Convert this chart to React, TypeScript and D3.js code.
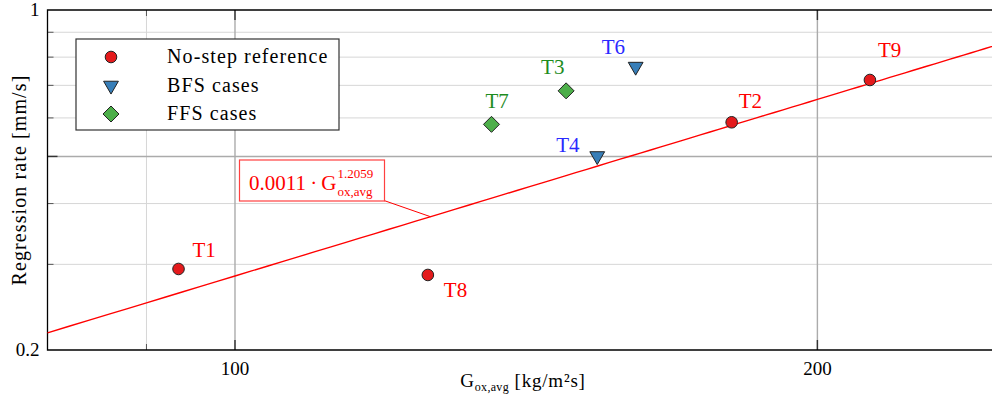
import { useEffect, useRef } from 'react'
import * as d3 from 'd3'

const names = ['T1', 'T8', 'T2', 'T9', 'T4', 'T6', 'T3', 'T7']
const groups = ['ref', 'ref', 'ref', 'ref', 'bfs', 'bfs', 'ffs', 'ffs']
const gox = [93.5, 125.8, 180.6, 212.9, 153.9, 161.1, 148.3, 135.7]
const rate = [0.2935, 0.2853, 0.5877, 0.718, 0.501, 0.765, 0.682, 0.582]

const legendLabels = ['No-step reference', 'BFS cases', 'FFS cases']
const fitA = 0.0011
const fitB = 1.2059

const xMajor = [100, 200]
const xMinor = [90]
const yMajor = [0.5]
const yMinor = [0.3, 0.4, 0.6, 0.7, 0.8, 0.9]
const yLabels = [0.2, 1]

const fill = { ref: '#e41a1c', bfs: '#377eb8', ffs: '#4daf4a' }
const textColor = { ref: '#ff0000', bfs: '#2a2aff', ffs: '#1e8c1e' }
const labelOffset = {
  T1: [14, -12], T8: [16, 22], T2: [7, -14], T9: [8, -23],
  T4: [-41, -4], T6: [-34, -13], T3: [-25, -17], T7: [-6, -16],
}

const font = 'Liberation Serif, DejaVu Serif, serif'

const App = () => {
  const ref = useRef(null)

  useEffect(() => {
    const width = 992
    const height = 394
    const left = 47.5
    const top = 10
    const bottom = 350

    const svg = d3.select(ref.current)
    svg.selectAll('*').remove()
    svg.attr('width', width).attr('height', height)

    const x = d3.scaleLog().domain([80, 250]).range([left, left + 1934.7 * Math.log10(250 / 80)])
    const y = d3.scaleLog().domain([0.2, 1]).range([bottom, top])

    const g = svg.append('g').attr('font-family', font)

    // grid
    g.selectAll('.xminor').data(xMinor).join('line')
     .attr('x1', d => x(d)).attr('x2', d => x(d)).attr('y1', top).attr('y2', bottom)
     .attr('stroke', '#d6d6d6').attr('stroke-width', 1)
    g.selectAll('.yminor').data(yMinor).join('line')
     .attr('x1', left).attr('x2', width).attr('y1', d => y(d)).attr('y2', d => y(d))
     .attr('stroke', '#d6d6d6').attr('stroke-width', 1)
    g.selectAll('.xmajor').data(xMajor).join('line')
     .attr('x1', d => x(d)).attr('x2', d => x(d)).attr('y1', top).attr('y2', bottom)
     .attr('stroke', '#ababab').attr('stroke-width', 1.4)
    g.selectAll('.ymajor').data(yMajor).join('line')
     .attr('x1', left).attr('x2', width).attr('y1', d => y(d)).attr('y2', d => y(d))
     .attr('stroke', '#ababab').attr('stroke-width', 1.4)

    // inner ticks
    const ticks = g.append('g').attr('stroke', '#333')
    ticks.selectAll('.tx').data([...xMinor, ...xMajor]).join('line')
         .attr('x1', d => x(d)).attr('x2', d => x(d))
         .attr('y1', bottom).attr('y2', d => bottom - (xMajor.includes(d) ? 10 : 6))
         .attr('stroke-width', d => xMajor.includes(d) ? 1.4 : 0.8)
    ticks.selectAll('.txt').data([...xMinor, ...xMajor]).join('line')
         .attr('x1', d => x(d)).attr('x2', d => x(d))
         .attr('y1', top).attr('y2', d => top + (xMajor.includes(d) ? 10 : 6))
         .attr('stroke-width', d => xMajor.includes(d) ? 1.4 : 0.8)
    ticks.selectAll('.ty').data([...yMinor, ...yMajor]).join('line')
         .attr('x1', left).attr('x2', d => left + (yMajor.includes(d) ? 10 : 6))
         .attr('y1', d => y(d)).attr('y2', d => y(d))
         .attr('stroke-width', d => yMajor.includes(d) ? 1.4 : 0.8)

    // axis frame (left, bottom, top)
    g.append('path')
     .attr('d', `M${width},${top}H${left}V${bottom}H${width}`)
     .attr('fill', 'none').attr('stroke', '#000').attr('stroke-width', 1.3)

    // tick labels
    g.selectAll('.xl').data(xMajor).join('text')
     .attr('x', d => x(d)).attr('y', bottom + 25)
     .attr('text-anchor', 'middle').attr('font-size', 19).text(d => d)
    g.selectAll('.yl').data(yLabels).join('text')
     .attr('x', left - 8).attr('y', d => y(d) + 6)
     .attr('text-anchor', 'end').attr('font-size', 19).text(d => d)

    // axis titles
    const xt = g.append('text').attr('x', 523).attr('y', 387)
                .attr('text-anchor', 'middle').attr('font-size', 19)
                .attr('letter-spacing', 0.8)
    xt.append('tspan').text('G')
    xt.append('tspan').attr('font-size', 12).attr('dy', 4).attr('letter-spacing', 0.3).text('ox,avg')
    xt.append('tspan').attr('dy', -4).text(' [kg/m²s]')

    g.append('text')
     .attr('transform', `translate(26,${(top + bottom) / 2}) rotate(-90)`)
     .attr('text-anchor', 'middle').attr('font-size', 20).attr('letter-spacing', 1.1)
     .text('Regression rate [mm/s]')

    // fit line
    const fitX = d3.range(80, 251, 2)
    const line = d3.line().x(d => x(d)).y(d => y(fitA * Math.pow(d, fitB)))
    g.append('path').datum(fitX).attr('d', line)
     .attr('fill', 'none').attr('stroke', '#ff0000').attr('stroke-width', 1.4)

    // fit annotation
    const pinG = 126.2
    g.append('line')
     .attr('x1', 384).attr('y1', 200.5)
     .attr('x2', x(pinG)).attr('y2', y(fitA * Math.pow(pinG, fitB)))
     .attr('stroke', '#ff0000').attr('stroke-width', 1)
    g.append('rect').attr('x', 239.5).attr('y', 160).attr('width', 145).attr('height', 41)
     .attr('fill', '#fff').attr('stroke', '#ff4040').attr('stroke-width', 1.2)
    const ann = g.append('g').attr('fill', '#ff0000')
    const base = ann.append('text').attr('x', 249).attr('y', 190)
                    .attr('font-size', 21).text(`${fitA}\u2009·\u2009G`)
    const bx = 249 + base.node().getComputedTextLength() + 1
    ann.append('text').attr('x', bx).attr('y', 178).attr('font-size', 13).text(fitB)
    ann.append('text').attr('x', bx).attr('y', 196).attr('font-size', 13).text('ox,avg')

    // markers
    const tri = d3.symbol().type(d3.symbolTriangle).size(95)
    const diamond = 'M0,-8L8,0L0,8L-8,0Z'
    const drawMarker = (sel, grp, cx, cy) => {
      if (grp === 'ref') {
        sel.append('circle').attr('cx', cx).attr('cy', cy).attr('r', 5.8)
           .attr('fill', fill.ref).attr('stroke', '#222').attr('stroke-width', 1)
      } else {
        sel.append('path').attr('d', grp === 'bfs' ? tri() : diamond)
           .attr('transform', `translate(${cx},${cy})${grp === 'bfs' ? ' rotate(180)' : ''}`)
           .attr('fill', fill[grp]).attr('stroke', '#222').attr('stroke-width', 1)
      }
    }

    const pts = g.append('g')
    names.forEach((n, i) => {
      const cx = x(gox[i])
      const cy = y(rate[i])
      drawMarker(pts, groups[i], cx, cy)
      const [dx, dy] = labelOffset[n]
      pts.append('text').attr('x', cx + dx).attr('y', cy + dy)
         .attr('fill', textColor[groups[i]]).attr('font-size', 21).text(n)
    })

    // legend
    const lg = g.append('g')
    lg.append('rect').attr('x', 76).attr('y', 39).attr('width', 263).attr('height', 91)
      .attr('fill', '#fff').attr('stroke', '#333').attr('stroke-width', 1.2)
    const gkeys = ['ref', 'bfs', 'ffs']
    legendLabels.forEach((l, i) => {
      const ly = 57 + i * 28.5
      drawMarker(lg, gkeys[i], 111, ly)
      lg.append('text').attr('x', 167).attr('y', ly + 6).attr('font-size', 20)
        .attr('letter-spacing', 1.1).text(l)
    })
  }, [])

  return <svg ref={ref} style={{ position: 'absolute', left: 0, top: 0 }}></svg>
}

export default App
